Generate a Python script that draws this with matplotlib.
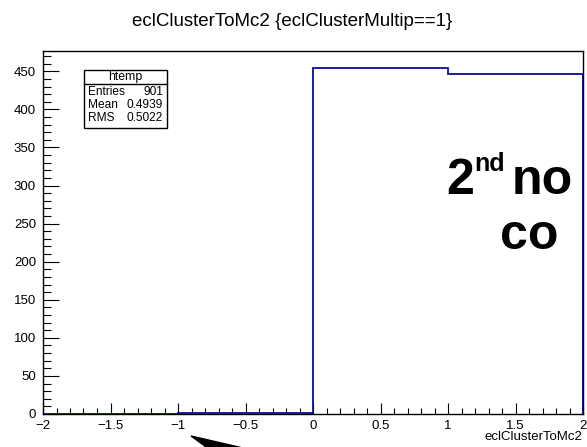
import numpy as np
import matplotlib.pyplot as plt
from matplotlib.patches import Rectangle, Polygon
from matplotlib.lines import Line2D
from matplotlib.ticker import MultipleLocator, FuncFormatter

plt.rcParams['font.family'] = ['Liberation Sans', 'DejaVu Sans']

# histogram contents (bins of width 1 from -2 to 2)
bin_edges = [-2, -1, 0, 1, 2]
counts = [0, 1, 454, 446]

plot_title = 'eclClusterToMc2 {eclClusterMultip==1}'
x_title = 'eclClusterToMc2'
stats_title = 'htemp'
stats_names = ['Entries', 'Mean', 'RMS']
stats_values = ['901', '0.4939', '0.5022']

W, H = 587, 447


def fx(px):
    return px / W


def fy(py):
    return 1 - py / H


fig = plt.figure(figsize=(W / 100, H / 100), dpi=100)
ax = fig.add_axes([fx(43), fy(414), fx(583 - 43), (414 - 51) / H])

ax.stairs(counts, bin_edges, color='#0a0a9c', lw=1.3, zorder=2)

ax.set_xlim(-2, 2)
ax.set_ylim(0, 1.05 * max(counts))

ax.xaxis.set_major_locator(MultipleLocator(0.5))
ax.xaxis.set_minor_locator(MultipleLocator(0.1))
ax.yaxis.set_major_locator(MultipleLocator(50))
ax.yaxis.set_minor_locator(MultipleLocator(10))
fmt = FuncFormatter(lambda v, p: f'{v:g}'.replace('-', '\u2212'))
ax.xaxis.set_major_formatter(fmt)
ax.yaxis.set_major_formatter(fmt)

ax.tick_params(which='both', direction='in', top=False, right=False,
               labelsize=9.5, width=0.8, color='black')
ax.tick_params(axis='x', which='major', length=8, pad=4)
ax.tick_params(axis='x', which='minor', length=4)
ax.tick_params(axis='y', which='major', length=11.5, pad=5)
ax.tick_params(axis='y', which='minor', length=5.8)
for s in ax.spines.values():
    s.set_linewidth(1.0)

fig.text(fx(292), fy(21), plot_title, ha='center', va='center', fontsize=13.5)
fig.text(fx(582), fy(437), x_title, ha='right', va='center', fontsize=9.5)

# statistics box
bx0, bx1, by0, by1, bsep = 84, 167, 70, 128, 84
fig.patches.append(Rectangle((fx(bx0), fy(by1)), fx(bx1 - bx0), (by1 - by0) / H,
                             transform=fig.transFigure, facecolor='white',
                             edgecolor='black', lw=1.0, zorder=5))
fig.lines.append(Line2D([fx(bx0), fx(bx1)], [fy(bsep), fy(bsep)],
                        transform=fig.transFigure, color='black', lw=1.0, zorder=6))
fig.text(fx((bx0 + bx1) / 2), fy(77), stats_title, ha='center', va='center',
         fontsize=8.8, zorder=7)
row_y = [92, 105, 118]
for name, val, ry in zip(stats_names, stats_values, row_y):
    fig.text(fx(bx0 + 4), fy(ry), name, ha='left', va='center', fontsize=8.6, zorder=7)
    fig.text(fx(bx1 - 4), fy(ry), val, ha='right', va='center', fontsize=8.6, zorder=7)

# overlay note, cut at the frame
note = dict(transform=fig.transFigure, fontweight='bold', ha='left',
            va='baseline', clip_on=True, zorder=2)
ax.text(fx(446), fy(194), '2', fontsize=36, **note)
ax.text(fx(474), fy(171), 'nd', fontsize=18, **note)
ax.text(fx(512), fy(194), 'no', fontsize=36, **note)
ax.text(fx(500), fy(249), 'co', fontsize=36, **note)

# arrow head at the bottom
tip = np.array([191, 436])
pts = [tip, tip + 60 * np.array([np.cos(np.radians(13)), np.sin(np.radians(13))]),
       tip + 60 * np.array([np.cos(np.radians(36)), np.sin(np.radians(36))])]
fig.patches.append(Polygon([(fx(p[0]), fy(p[1])) for p in pts], closed=True,
                           transform=fig.transFigure, facecolor='black',
                           edgecolor='black', zorder=5))

fig.savefig('out.png', dpi=100)
